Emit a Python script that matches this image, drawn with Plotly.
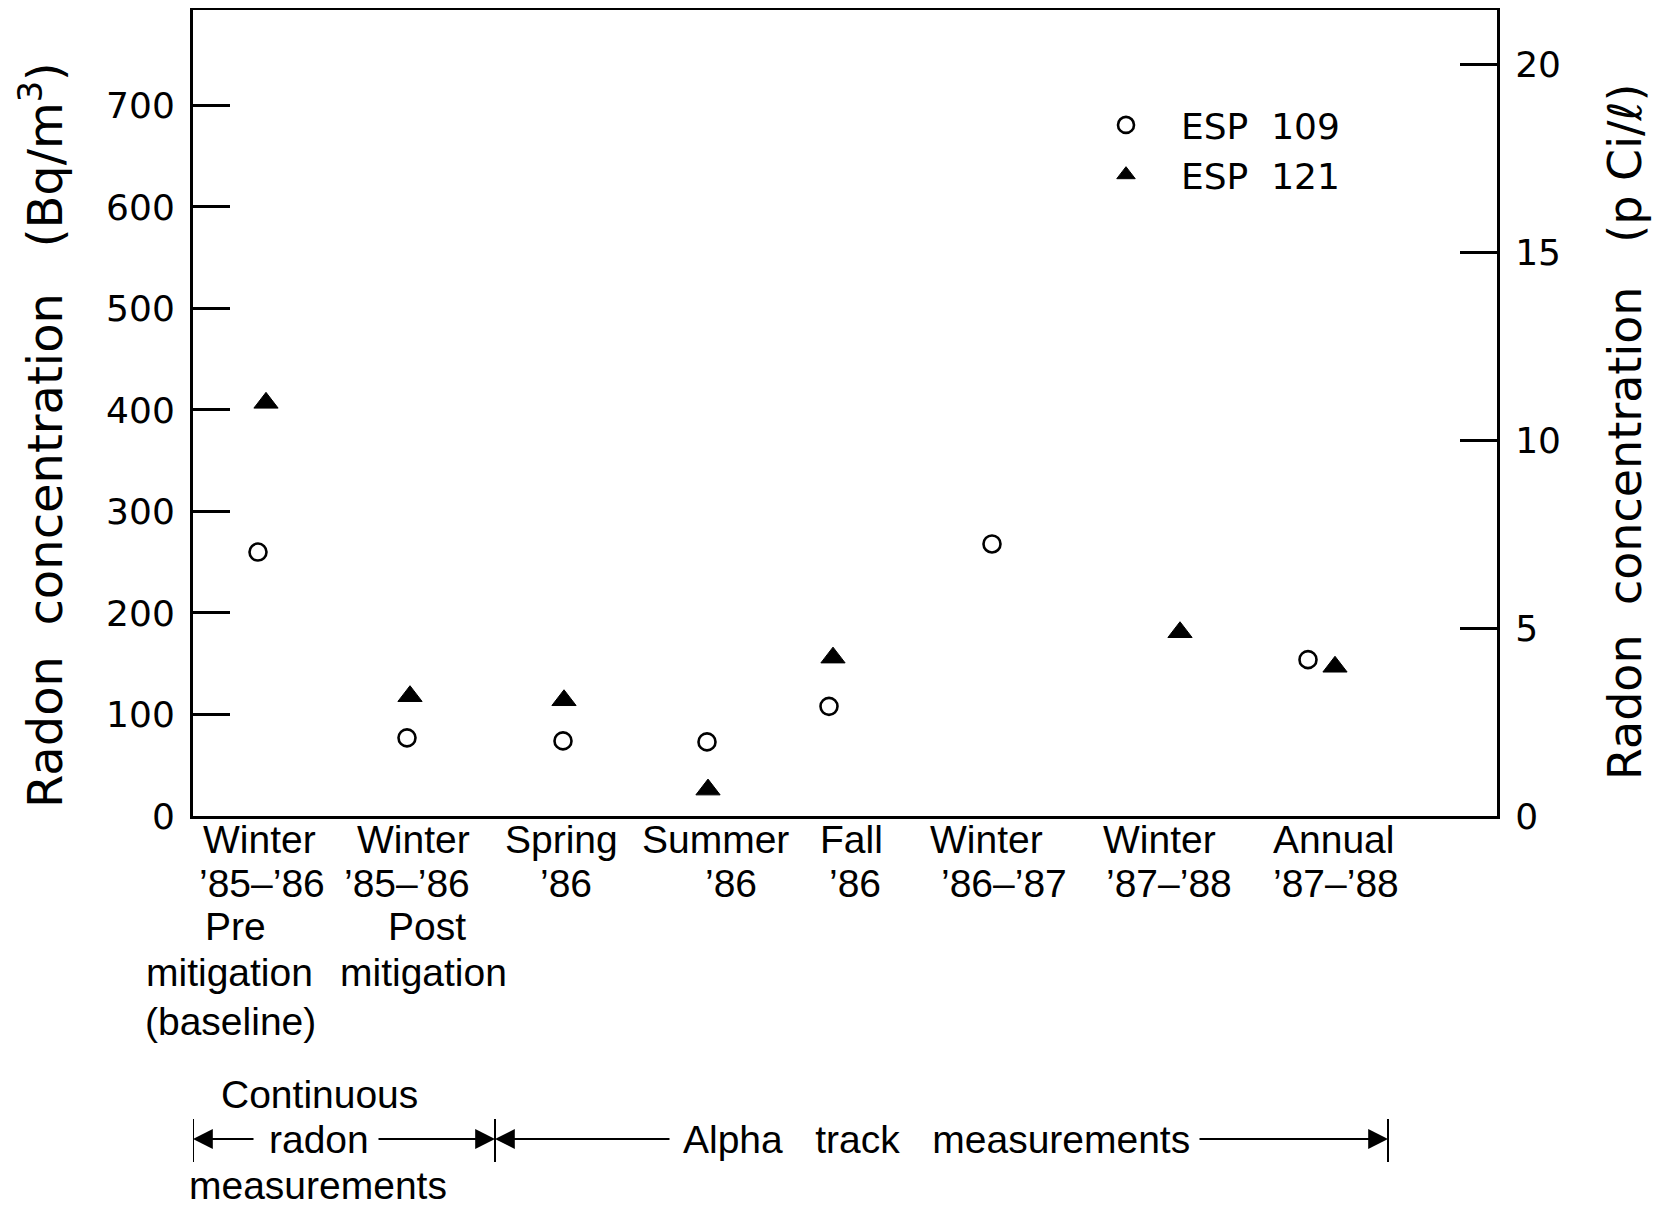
import plotly.graph_objects as go

# ---------------- data ----------------
series_names = ["ESP 109", "ESP 121"]
# x positions along the horizontal measurement axis (arbitrary position units)
esp109_x = [0.65, 2.14, 3.70, 5.14, 6.36, 7.99, 11.15]
esp109_y = [260, 77, 74, 73, 108, 268, 154]
esp121_x = [0.73, 2.17, 3.71, 5.15, 6.40, 9.87, 11.42]
esp121_y = [407, 118, 114, 26, 156, 181, 147]

label_lines = [
    ["Winter", "’85–’86", "Pre", "mitigation", "(baseline)"],
    ["Winter", "’85–’86", "Post", "mitigation"],
    ["Spring", "’86"],
    ["Summer", "’86"],
    ["Fall", "’86"],
    ["Winter", "’86–’87"],
    ["Winter", "’87–’88"],
    ["Annual", "’87–’88"],
]
label_line_x = [
    [0.66, 0.69, 0.42, 0.36, 0.37],
    [2.20, 2.14, 2.34, 2.30],
    [3.68, 3.73],
    [5.22, 5.38],
    [6.58, 6.62],
    [7.93, 8.11],
    [9.66, 9.76],
    [11.40, 11.43],
]
left_ticks = [0, 100, 200, 300, 400, 500, 600, 700]
right_ticks = [0, 5, 10, 15, 20]
BQ_PER_PCI = 37.0
Y_MAX = 794
X_MAX = 13.04

period_bounds = [0.0, 3.02, 11.95]

# ---------------- layout helpers ----------------
W, H = 1665, 1208
PAGE_OFF = 8                       # default body margin of the html page
L0, T0, PW, PH = 193, 10, 1304, 806  # target plot-area box on the photographed page


def py(ypx):
    return (T0 + PH - ypx) / PH


def px(xpx):
    return (xpx - L0) / PW


label_font = dict(family="Liberation Sans, Arial", size=39, color="black")
line_y_px = [839, 884, 926, 973, 1021]

fig = go.Figure()
fig.add_trace(go.Scatter(
    x=esp109_x, y=esp109_y, mode="markers", name=series_names[0],
    marker=dict(symbol="circle-open", size=17, color="black", line=dict(width=2.6, color="black")),
))
fig.add_trace(go.Scatter(
    x=esp121_x, y=esp121_y, mode="markers", name=series_names[1],
    marker=dict(symbol="triangle-up", size=21, color="black", line=dict(width=1, color="black")),
))
# invisible trace to activate the right (pCi/l) axis
fig.add_trace(go.Scatter(x=[None], y=[None], yaxis="y2", showlegend=False, hoverinfo="skip"))

annotations = []
for lines, xs in zip(label_lines, label_line_x):
    for i, (txt, xv) in enumerate(zip(lines, xs)):
        annotations.append(dict(text=txt, x=xv, xref="x", y=py(line_y_px[i]), yref="paper",
                                xanchor="center", yanchor="middle", showarrow=False, font=label_font))

# axis titles
annotations.append(dict(text="Radon\u00a0 concentration\u00a0\u00a0 (Bq/m<sup>3</sup>)", x=px(42), y=py(435),
                        xref="paper", yref="paper", textangle=-90, showarrow=False,
                        xanchor="center", yanchor="middle",
                        font=dict(family="DejaVu Sans, Liberation Sans", size=48, color="black")))
annotations.append(dict(text="Radon\u00a0 concentration\u00a0\u00a0 (p Ci/ℓ)", x=px(1625), y=py(432),
                        xref="paper", yref="paper", textangle=-90, showarrow=False,
                        xanchor="center", yanchor="middle",
                        font=dict(family="DejaVu Sans, Liberation Sans", size=46, color="black")))

# measurement-method annotations
annotations += [
    dict(text="Continuous", x=px(319), y=py(1094), xref="paper", yref="paper", showarrow=False,
         xanchor="center", yanchor="middle", font=label_font),
    dict(text="radon", x=px(319), y=py(1139), xref="paper", yref="paper", showarrow=False,
         xanchor="center", yanchor="middle", font=label_font),
    dict(text="measurements", x=px(318), y=py(1185), xref="paper", yref="paper", showarrow=False,
         xanchor="center", yanchor="middle", font=label_font),
    dict(text="Alpha\u00a0\u00a0 track\u00a0\u00a0 measurements", x=px(936), y=py(1139), xref="paper",
         yref="paper", showarrow=False, xanchor="center", yanchor="middle", font=label_font),
]
arrow_style = dict(showarrow=True, arrowhead=2, arrowsize=2.2, arrowwidth=1.8, arrowcolor="black",
                   ay=0, text="", xref="x", yref="paper", standoff=0, startstandoff=0)
annotations += [
    dict(x=period_bounds[0], y=py(1139), ax=62, **arrow_style),
    dict(x=period_bounds[1], y=py(1139), ax=-118, **arrow_style),
    dict(x=period_bounds[1], y=py(1139), ax=176, **arrow_style),
    dict(x=period_bounds[2], y=py(1139), ax=-190, **arrow_style),
]

shapes = [dict(type="line", xref="x", yref="paper", x0=b, x1=b, y0=py(1119), y1=py(1162),
               line=dict(color="black", width=2)) for b in period_bounds]

tick_font = dict(family="DejaVu Sans, Liberation Sans", size=36, color="black")
left_m = L0 - PAGE_OFF
top_m = T0 - PAGE_OFF
fig.update_layout(
    width=W, height=H,
    margin=dict(l=left_m, r=W - left_m - PW, t=top_m, b=H - top_m - PH, autoexpand=False),
    paper_bgcolor="white", plot_bgcolor="white",
    showlegend=True,
    legend=dict(x=px(1071), y=py(95), xanchor="left", yanchor="top", bgcolor="rgba(0,0,0,0)",
                font=dict(family="DejaVu Sans, Liberation Sans", size=36, color="black"),
                itemwidth=100, tracegroupgap=0),
    xaxis=dict(range=[0, X_MAX], showgrid=False, zeroline=False, showticklabels=False, ticks="",
               showline=True, mirror=True, linecolor="black", linewidth=3),
    yaxis=dict(range=[0, Y_MAX], tickvals=left_ticks, ticks="inside", ticklen=37, tickwidth=3,
               tickcolor="black", showgrid=False, zeroline=False, showline=True, linecolor="black",
               linewidth=3, tickfont=tick_font, ticklabelstandoff=8),
    yaxis2=dict(range=[0, Y_MAX / BQ_PER_PCI], tickvals=right_ticks, overlaying="y", side="right",
                ticks="inside", ticklen=37, tickwidth=3, tickcolor="black", showgrid=False,
                zeroline=False, showline=True, linecolor="black", linewidth=3, tickfont=tick_font,
                ticklabelstandoff=8),
    annotations=annotations,
    shapes=shapes,
)
for tr, nm in zip(fig.data[:2], series_names):
    tr.name = nm.replace(" ", "\u00a0 ")

fig.write_html("out.html")
